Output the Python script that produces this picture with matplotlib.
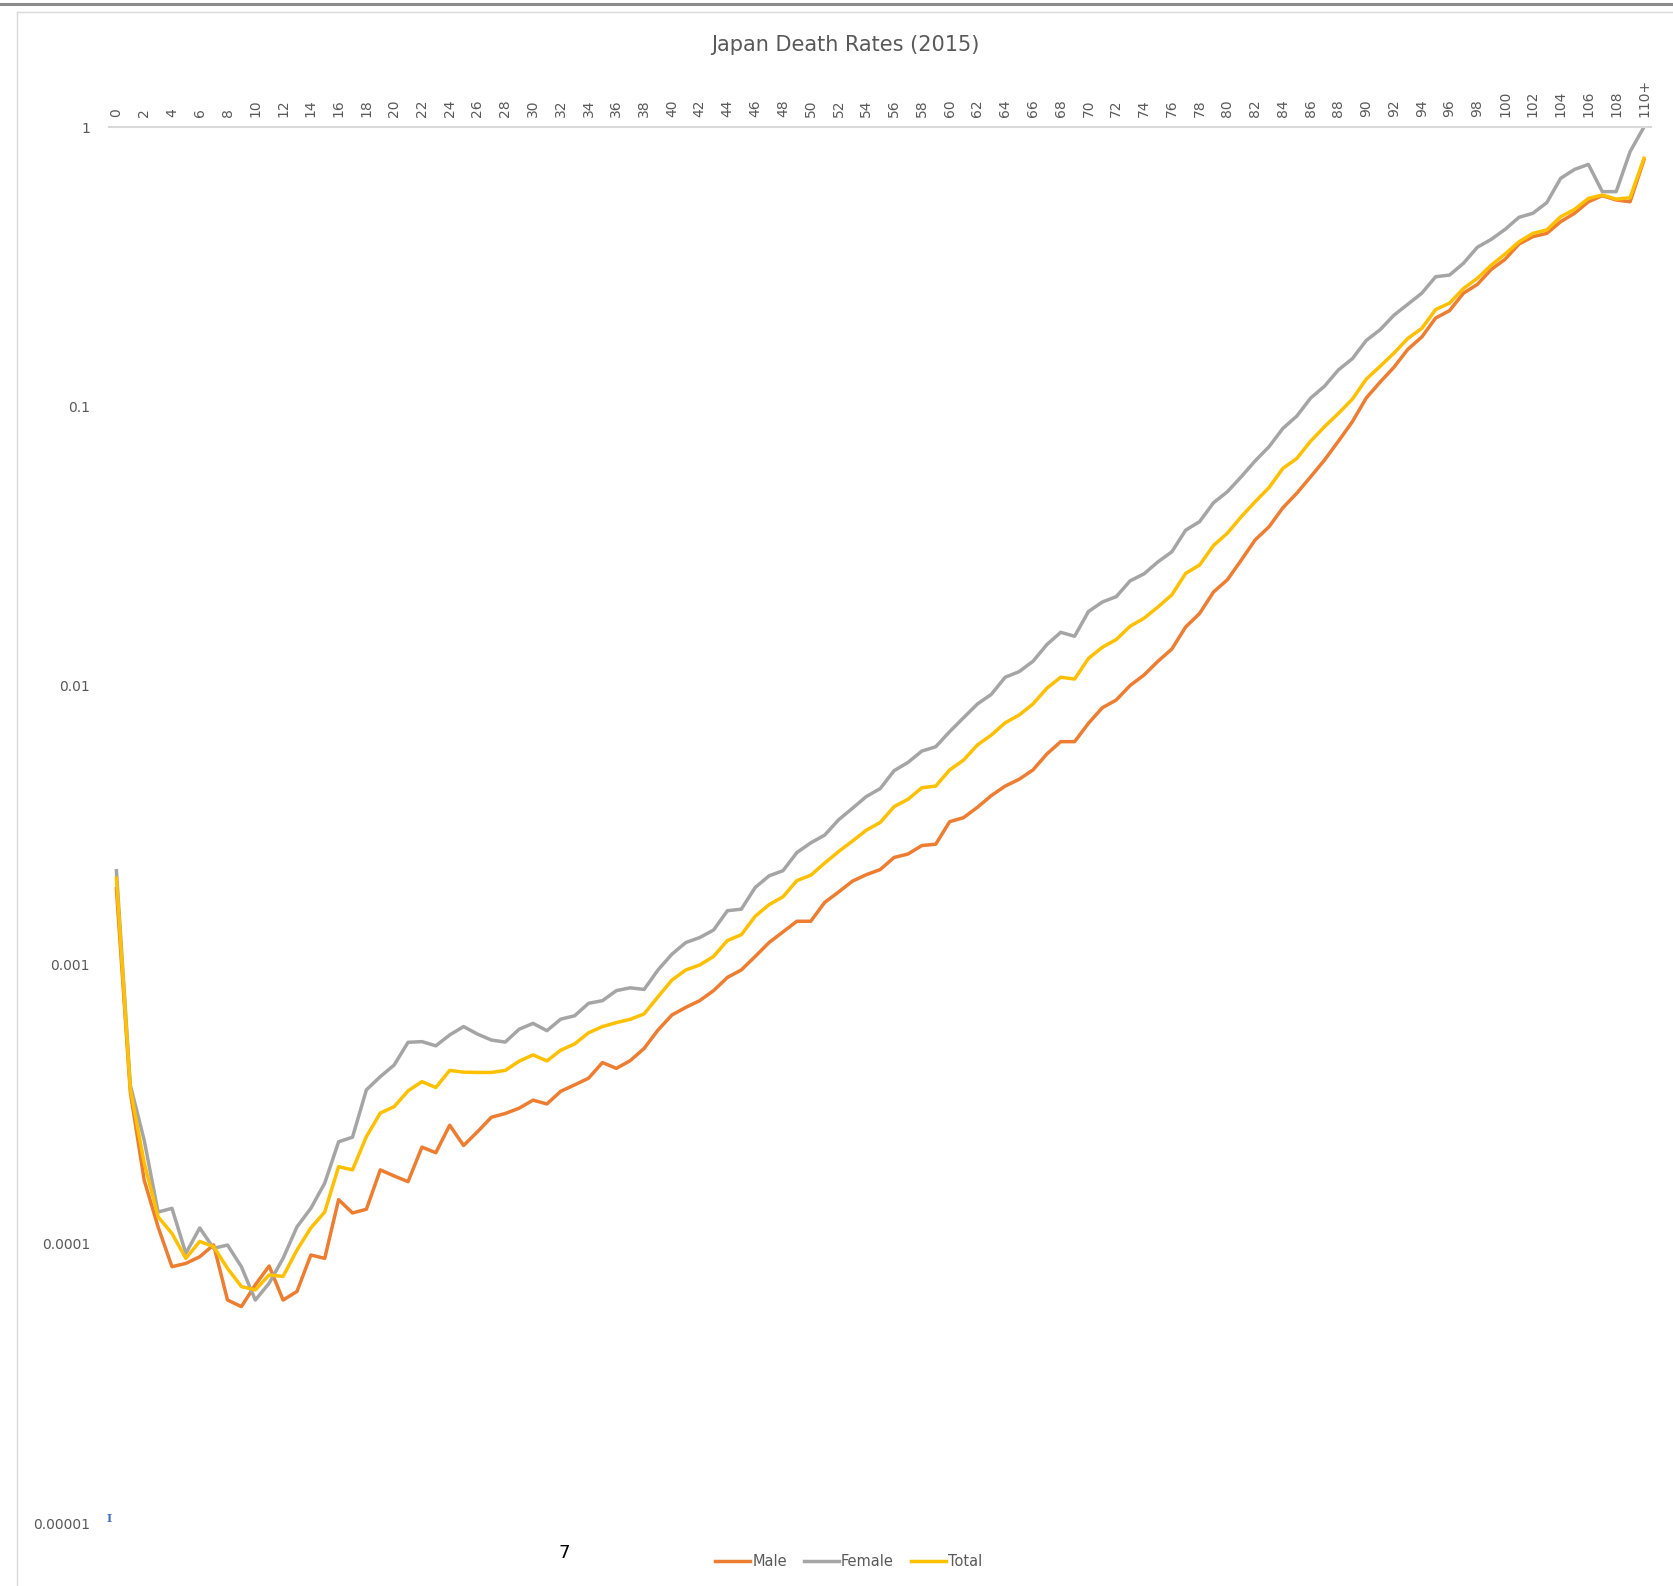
import matplotlib
matplotlib.use('Agg')
import matplotlib.pyplot as plt
from matplotlib.lines import Line2D
from matplotlib.ticker import FixedLocator, NullLocator

ages = list(range(0, 111))
age_labels = [str(a) for a in range(0, 110, 2)] + ['110+']

male = [0.00187, 0.00035, 0.000169, 0.000115, 0.0000828, 0.0000851, 0.0000899, 0.0000991, 0.0000629, 0.0000596,
        0.0000713, 0.0000833, 0.0000629, 0.0000675, 0.0000912, 0.0000887, 0.000144, 0.000129, 0.000133, 0.000184,
        0.000175, 0.000167, 0.000222, 0.000212, 0.000266, 0.000225, 0.000252, 0.000284, 0.000293, 0.000306,
        0.000327, 0.000317, 0.000352, 0.000371, 0.000392, 0.000446, 0.000425, 0.000453, 0.000501, 0.000583,
        0.00066, 0.000703, 0.000743, 0.000807, 0.0009, 0.000957, 0.00107, 0.0012, 0.00131, 0.00143,
        0.00143, 0.00167, 0.00182, 0.00199, 0.0021, 0.00219, 0.00242, 0.00249, 0.00267, 0.0027,
        0.00325, 0.00336, 0.00366, 0.00403, 0.00436, 0.00461, 0.00498, 0.00568, 0.00629, 0.00629,
        0.00732, 0.00832, 0.00887, 0.0100, 0.0109, 0.0122, 0.0135, 0.0162, 0.0181, 0.0216,
        0.0239, 0.0281, 0.0332, 0.037, 0.0433, 0.0488, 0.0559, 0.0642, 0.075, 0.088,
        0.107, 0.122, 0.138, 0.160, 0.177, 0.207, 0.220, 0.254, 0.273, 0.309,
        0.336, 0.381, 0.405, 0.416, 0.458, 0.491, 0.540, 0.568, 0.548, 0.540,
        0.762]

female = [0.00217, 0.00037, 0.000235, 0.00013, 0.000134, 0.0000925, 0.000114, 0.0000964, 0.000099, 0.0000828,
          0.0000629, 0.0000723, 0.0000887, 0.000115, 0.000134, 0.000165, 0.000232, 0.000241, 0.000356, 0.000397,
          0.000437, 0.000527, 0.00053, 0.000512, 0.00056, 0.0006, 0.000564, 0.000537, 0.000528, 0.000587,
          0.000616, 0.00058, 0.000638, 0.000656, 0.000727, 0.000743, 0.000807, 0.000826, 0.000815, 0.000957,
          0.00109, 0.0012, 0.00125, 0.00133, 0.00156, 0.00158, 0.00189, 0.00208, 0.00217, 0.00252,
          0.00273, 0.00291, 0.0033, 0.00363, 0.004, 0.00427, 0.00495, 0.0053, 0.00582, 0.00603,
          0.00683, 0.00766, 0.00858, 0.00929, 0.0107, 0.0112, 0.0122, 0.014, 0.0155, 0.015,
          0.0184, 0.0199, 0.0208, 0.0237, 0.0251, 0.0277, 0.0301, 0.036, 0.0386, 0.0451,
          0.0494, 0.0559, 0.0637, 0.0716, 0.0833, 0.0922, 0.107, 0.118, 0.135, 0.148,
          0.172, 0.188, 0.212, 0.232, 0.254, 0.291, 0.295, 0.325, 0.371, 0.396,
          0.430, 0.475, 0.491, 0.536, 0.655, 0.705, 0.735, 0.587, 0.587, 0.816,
          1.0]

total = [0.00204, 0.00036, 0.000195, 0.000125, 0.000109, 0.0000887, 0.000102, 0.0000977, 0.0000817, 0.0000703,
         0.0000684, 0.0000774, 0.0000764, 0.000095, 0.000114, 0.00013, 0.000189, 0.000184, 0.000242, 0.000294,
         0.00031, 0.000353, 0.000381, 0.000363, 0.000418, 0.000412, 0.000411, 0.000411, 0.000418, 0.000451,
         0.000475, 0.000452, 0.000494, 0.00052, 0.00057, 0.0006, 0.00062, 0.000637, 0.000666, 0.000767,
         0.00088, 0.000957, 0.000997, 0.00107, 0.00122, 0.00128, 0.00149, 0.00164, 0.00175, 0.002,
         0.00209, 0.00231, 0.00254, 0.00277, 0.00303, 0.00323, 0.00368, 0.00391, 0.0043, 0.00436,
         0.00498, 0.0054, 0.00612, 0.00664, 0.00735, 0.00783, 0.00858, 0.00977, 0.0107, 0.01054,
         0.0125, 0.0137, 0.0146, 0.0163, 0.0174, 0.0191, 0.0211, 0.0252, 0.027, 0.0317,
         0.0351, 0.0402, 0.0455, 0.0511, 0.0599, 0.065, 0.075, 0.0845, 0.0943, 0.106,
         0.125, 0.139, 0.155, 0.175, 0.190, 0.222, 0.234, 0.264, 0.287, 0.320,
         0.351, 0.388, 0.416, 0.428, 0.477, 0.507, 0.555, 0.571, 0.552, 0.558,
         0.773]

y_ticks = [1e-5, 1e-4, 1e-3, 1e-2, 1e-1, 1]
y_labels = ['0.00001', '0.0001', '0.001', '0.01', '0.1', '1']

TEXT = '#595959'

fig = plt.figure(figsize=(16.74, 15.86), dpi=100)
ax = fig.add_axes([0.0654, 0.0397, 0.9208, 0.8802])

ax.plot(ages, male, color='#ED7D31', lw=2.5, label='Male')
ax.plot(ages, female, color='#A5A5A5', lw=2.5, label='Female')
ax.plot(ages, total, color='#FFC000', lw=2.5, label='Total')

ax.set_yscale('log')
ax.set_ylim(1e-5, 1)
ax.set_xlim(-0.5, 110.5)

ax.yaxis.set_major_locator(FixedLocator(y_ticks))
ax.yaxis.set_minor_locator(NullLocator())
ax.set_yticklabels(y_labels)

ax.xaxis.tick_top()
ax.set_xticks(list(range(0, 111, 2)))
ax.set_xticklabels(age_labels, rotation=90)
ax.tick_params(axis='x', length=0, pad=7, labelsize=10, labelcolor=TEXT)
ax.tick_params(axis='y', length=0, pad=14, labelsize=10, labelcolor=TEXT)

for side in ['left', 'right', 'bottom']:
    ax.spines[side].set_visible(False)
ax.spines['top'].set_color('#D9D9D9')
ax.spines['top'].set_linewidth(1.5)

fig.text(0.505, 0.9716, 'Japan Death Rates (2015)', ha='center', va='center', fontsize=15, color=TEXT)

fig.legend(loc='center', bbox_to_anchor=(0.507, 0.0155), ncol=3, frameon=False, fontsize=10.5,
           handlelength=2.4, handletextpad=0.15, columnspacing=1.15, labelcolor=TEXT)

# stray bits visible in the screenshot
fig.text(564 / 1674, 1 - 1553 / 1586, '7', ha='center', va='center', fontsize=13, color='black')
fig.text(109 / 1674, 1 - 1518 / 1586, 'I', ha='center', va='center', fontsize=8,
         color='#4472C4', family='DejaVu Serif', fontweight='bold')

# chart frame
fig.add_artist(Line2D([0, 1], [1 - 4 / 1586, 1 - 4 / 1586], color='#8C8C8C', lw=2.2))
fig.add_artist(Line2D([17 / 1674, 1], [1 - 12 / 1586, 1 - 12 / 1586], color='#D9D9D9', lw=1))
fig.add_artist(Line2D([17 / 1674, 17 / 1674], [0, 1 - 12 / 1586], color='#D9D9D9', lw=1))

fig.savefig('out.png', dpi=100, facecolor='white')
